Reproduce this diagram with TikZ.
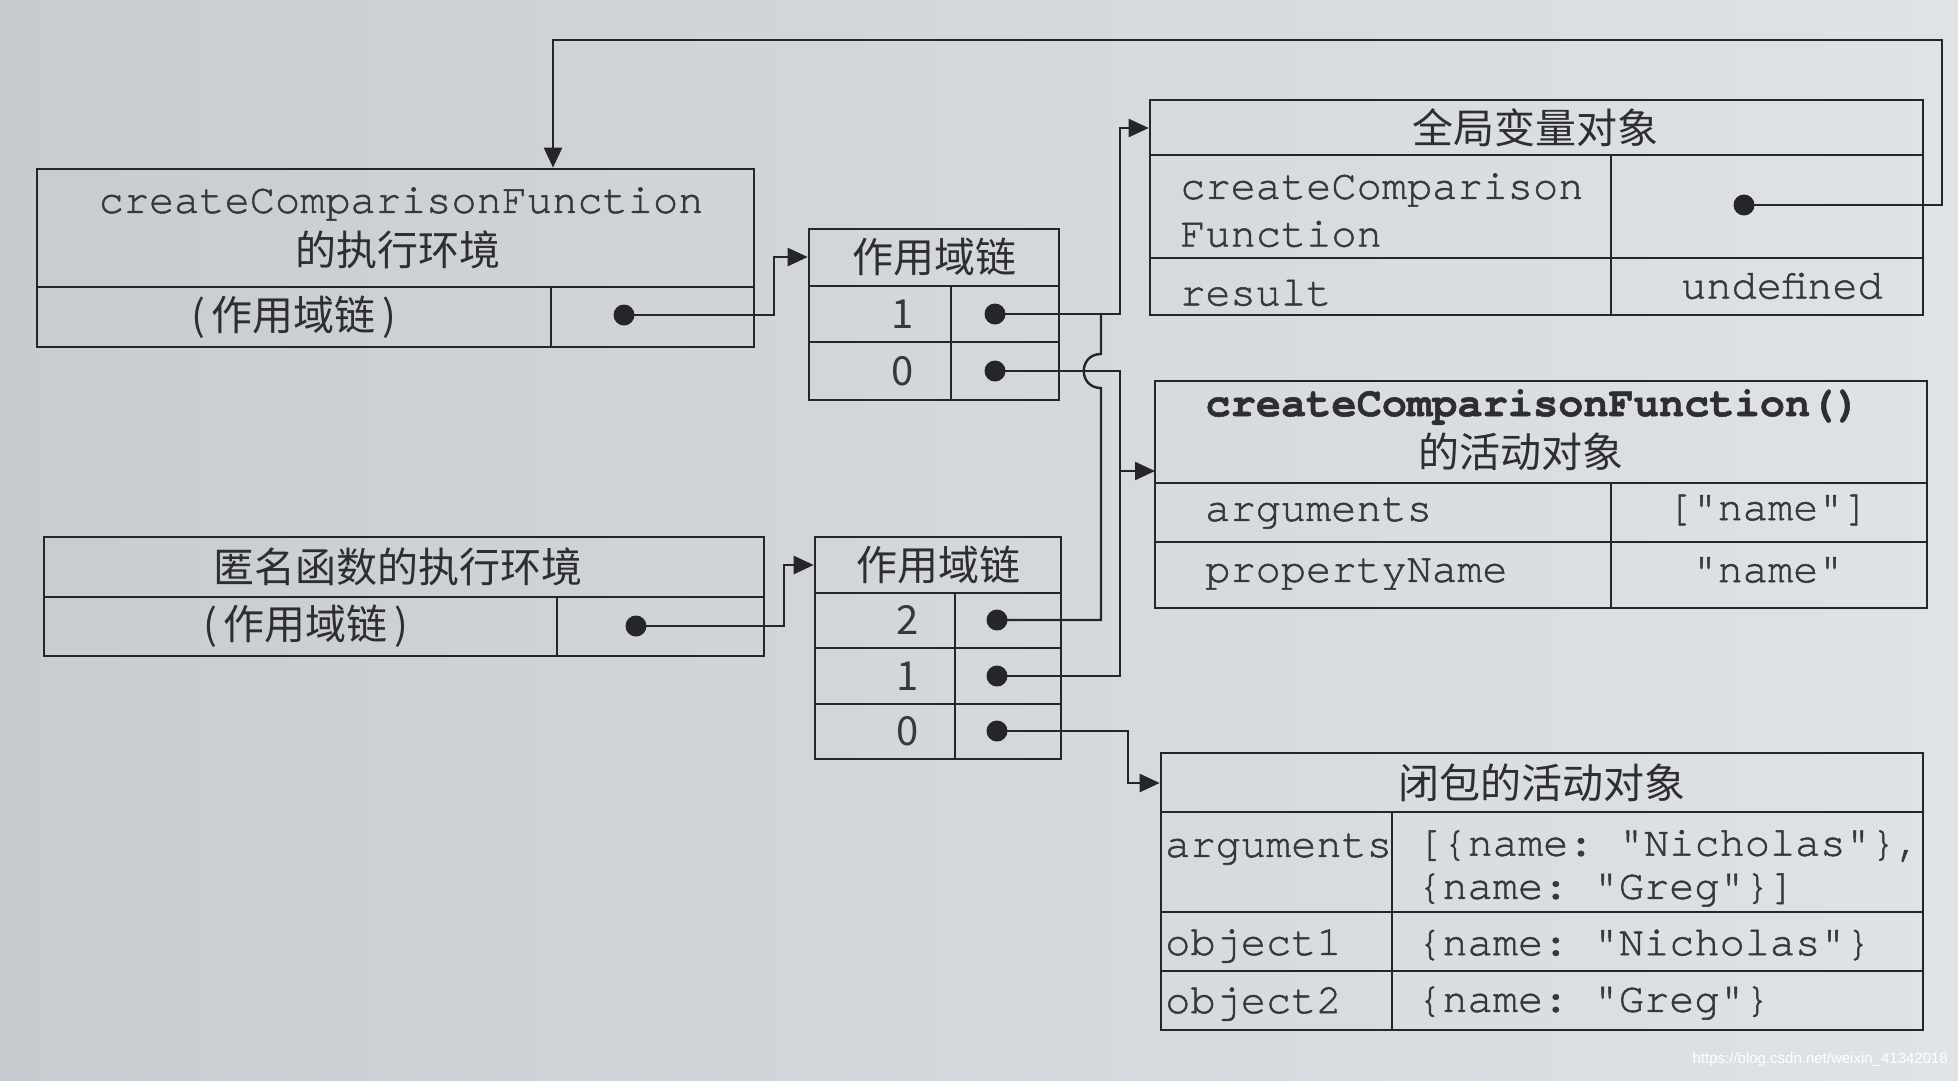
\documentclass[tikz,border=0pt]{standalone}
\usepackage{fontspec}
\setmonofont{TeX Gyre Cursor}[FakeBold=1.2]
\newfontfamily\cjk{Noto Sans CJK SC}
\newfontfamily\wmfont{Liberation Sans}
\usetikzlibrary{arrows.meta}
\definecolor{bgL}{RGB}{200,204,208}
\definecolor{bgR}{RGB}{224,227,230}
\definecolor{linec}{RGB}{38,38,42}
\definecolor{txtc}{RGB}{55,55,60}
\definecolor{zhc}{RGB}{45,45,50}
\begin{document}
\begin{tikzpicture}[x=1pt,y=-1pt,
  box/.style={draw=linec, line width=2.6pt, rectangle, inner sep=0pt},
  div/.style={draw=linec, line width=2.6pt},
  mono/.style={font=\fontsize{42}{46}\selectfont\ttfamily\frenchspacing, text=txtc, inner sep=0pt},
  monob/.style={font=\fontsize{42}{46}\selectfont\ttfamily\bfseries\frenchspacing, text=zhc, inner sep=0pt},
  zh/.style={font=\fontsize{41}{46}\selectfont\cjk, text=zhc, inner sep=0pt},
  num/.style={font=\fontsize{40}{46}\selectfont\cjk, text=txtc, inner sep=0pt},
  dot/.style={circle, fill=linec, minimum size=21pt, inner sep=0pt},
  conn/.style={draw=linec, line width=2.4pt},
  arr/.style={conn, -{Triangle[length=20pt,width=18pt]}},
]
\useasboundingbox (0,0) rectangle (1958,1080);
\shade[left color=bgL, right color=bgR] (0,0) rectangle (1958,1080);

% ---- Box A: createComparisonFunction execution context
\node[box, minimum width=717pt, minimum height=178pt] (A) at (395.5,258) {};
\draw[div] (37,287) -- (754,287);
\draw[div] (551,287) -- (551,347);
\node[mono] (At1) at (401,204) {createComparisonFunction};
\node[zh] (At2) at (398,250) {的执行环境};
\node[zh] (Ak) at (294,317) {(\,作用域链\,)};
\node[dot] (dA) at (624,315) {};

% ---- Box B: scope chain 1
\node[box, minimum width=250pt, minimum height=171pt] (B) at (934,314.5) {};
\draw[div] (809,286) -- (1059,286);
\draw[div] (809,342) -- (1059,342);
\draw[div] (951,286) -- (951,400);
\node[zh] (Bt) at (934,257) {作用域链};
\node[num] (B1) at (903,314) {1};
\node[num] (B0) at (903,371) {0};
\node[dot] (dB1) at (995,314) {};
\node[dot] (dB0) at (995,371) {};

% ---- Box D: anonymous function execution context
\node[box, minimum width=720pt, minimum height=119pt] (D) at (404,596.5) {};
\draw[div] (44,597) -- (764,597);
\draw[div] (557,597) -- (557,656);
\node[zh] (Dt) at (398,567) {匿名函数的执行环境};
\node[zh] (Dk) at (306,626) {(\,作用域链\,)};
\node[dot] (dD) at (636,626) {};

% ---- Box C: scope chain 2
\node[box, minimum width=246pt, minimum height=222pt] (C) at (938,648) {};
\draw[div] (815,593) -- (1061,593);
\draw[div] (815,648) -- (1061,648);
\draw[div] (815,704) -- (1061,704);
\draw[div] (955,593) -- (955,759);
\node[zh] (Ct) at (938,565) {作用域链};
\node[num] (C2) at (908,620) {2};
\node[num] (C1) at (908,676) {1};
\node[num] (C0) at (908,731) {0};
\node[dot] (dC2) at (997,620) {};
\node[dot] (dC1) at (997,676) {};
\node[dot] (dC0) at (997,731) {};

% ---- Global variable object
\node[box, minimum width=773pt, minimum height=215pt] (G) at (1536.5,207.5) {};
\draw[div] (1150,155) -- (1923,155);
\draw[div] (1150,258) -- (1923,258);
\draw[div] (1611,155) -- (1611,315);
\node[zh] (Gt) at (1535,128) {全局变量对象};
\node[mono, anchor=west] (Gk1) at (1180,190) {createComparison};
\node[mono, anchor=west] (Gk2) at (1180,234) {Function};
\node[mono, anchor=west] (Gk3) at (1180,293) {result};
\node[mono] (Gv3) at (1782,286) {undefined};
\node[dot] (dG) at (1744,205) {};

% ---- Activation object of createComparisonFunction()
\node[box, minimum width=772pt, minimum height=227pt] (Act) at (1541,494.5) {};
\draw[div] (1155,483) -- (1927,483);
\draw[div] (1155,542) -- (1927,542);
\draw[div] (1611,483) -- (1611,608);
\node[monob] (Actt1) at (1533,407) {createComparisonFunction()};
\node[zh] (Actt2) at (1521,452) {的活动对象};
\node[mono, anchor=west] (Actk1) at (1205,513) {arguments};
\node[mono] (Actv1) at (1768,510) {["name"]};
\node[mono, anchor=west] (Actk2) at (1205,574) {propertyName};
\node[mono] (Actv2) at (1768,570) {"name"};

% ---- Closure activation object
\node[box, minimum width=762pt, minimum height=277pt] (Clo) at (1542,891.5) {};
\draw[div] (1161,812) -- (1923,812);
\draw[div] (1161,912) -- (1923,912);
\draw[div] (1161,971) -- (1923,971);
\draw[div] (1392,812) -- (1392,1030);
\node[zh] (Clot) at (1542,783) {闭包的活动对象};
\node[mono, anchor=west] (Clok1) at (1165,849) {arguments};
\node[mono, anchor=west] (Clov1a) at (1417,846) {[\{name: "Nicholas"\},};
\node[mono, anchor=west] (Clov1b) at (1417,890) {\{name: "Greg"\}]};
\node[mono, anchor=west] (Clok2) at (1165,946) {object1};
\node[mono, anchor=west] (Clov2) at (1417,945) {\{name: "Nicholas"\}};
\node[mono, anchor=west] (Clok3) at (1165,1004) {object2};
\node[mono, anchor=west] (Clov3) at (1417,1003) {\{name: "Greg"\}};

% ---- helper coordinates
\coordinate (xJ) at (1120,0);
\coordinate (xK) at (1128,0);
\coordinate (xL) at (553,0);
\coordinate (tAct) at (1155,471);

% ---- connectors
\draw[arr] (dA.center) -- ++(150,0) |- (B.west |- Bt);
\draw[arr] (dD.center) -- ++(148,0) |- (C.west |- Ct);
\draw[arr] (dB1.center) -| (xJ |- Gt) -- (G.west |- Gt);
\draw[arr] (dB0.center) -| (xJ |- tAct) -- (tAct);
\draw[conn] (dC1.center) -| (xJ |- tAct);
\draw[conn] (dC2.center) -| (1101,388) .. controls (1078,388) and (1078,354) .. (1101,354) -- (1101,314);
\draw[arr] (dC0.center) -| (xK |- Clot) -- (Clo.west |- Clot);
\draw[arr] (dG.center) -- ++(198,0) |- (xL |- 0,40) -- (xL |- A.north);

% ---- watermark
\node[font=\fontsize{15}{18}\selectfont\wmfont, text=white, anchor=east, inner sep=0pt] (wm) at (1948,1060) {https://blog.csdn.net/weixin\_41342018};
\end{tikzpicture}
\end{document}
